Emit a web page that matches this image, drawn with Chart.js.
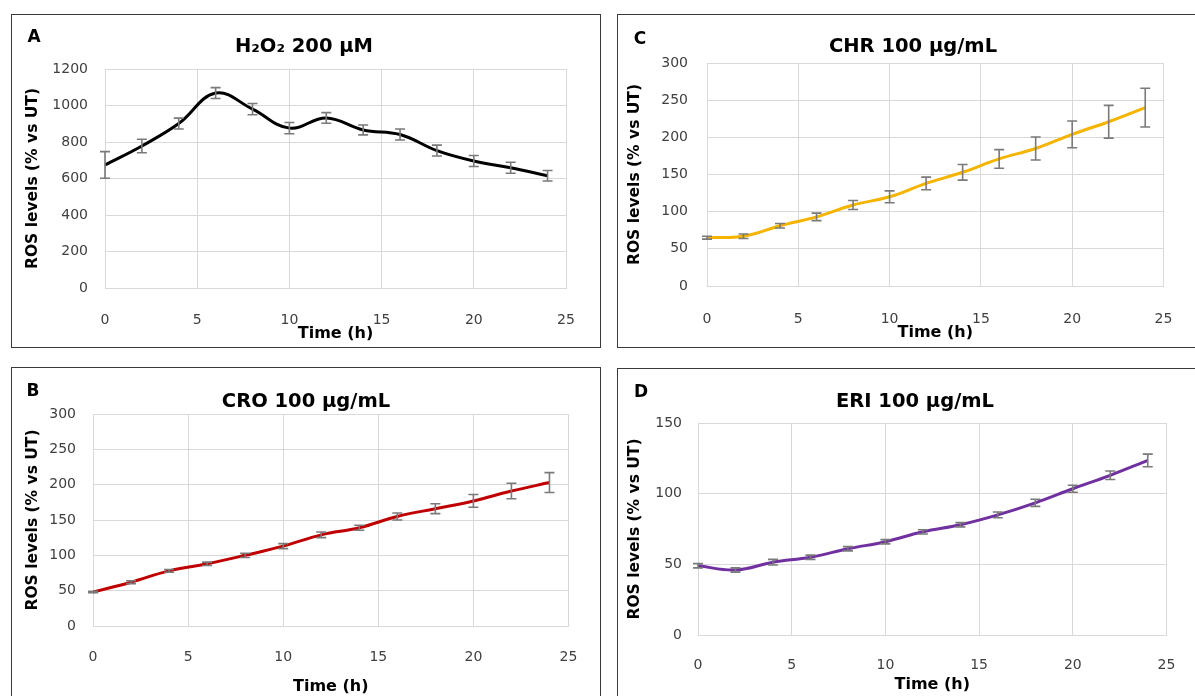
<!DOCTYPE html>
<html><head><meta charset="utf-8">
<script src="https://cdn.jsdelivr.net/npm/chart.js@4.4.1/dist/chart.umd.min.js"></script>
<style>
html,body{margin:0;padding:0;background:#fff;width:1195px;height:696px;overflow:hidden;}
body{position:relative;}
.box{position:absolute;border:1.5px solid #3a3a3a;box-sizing:border-box;}
canvas{position:absolute;}
</style></head><body>
<div class="box" style="left:11px;top:14px;width:590px;height:334px"></div>
<div class="box" style="left:617px;top:14px;width:600px;height:334px"></div>
<div class="box" style="left:11px;top:367px;width:590px;height:340px"></div>
<div class="box" style="left:617px;top:368px;width:600px;height:340px"></div>
<canvas id="cA" width="588" height="332" style="left:12px;top:15px"></canvas>
<canvas id="cC" width="580" height="332" style="left:617px;top:15px"></canvas>
<canvas id="cB" width="588" height="329" style="left:12px;top:367px"></canvas>
<canvas id="cD" width="580" height="328" style="left:617px;top:368px"></canvas>
<script>
// ---- data ----
const timeH = [0, 2, 4, 6, 8, 10, 12, 14, 16, 18, 20, 22, 24];
const xTickValues = [0, 5, 10, 15, 20, 25];

const h2o2Mean = [674, 778, 901, 1068, 980, 876, 932, 866, 841, 753, 696, 659, 615];
const h2o2Err  = [73, 37, 30, 30, 31, 31, 29, 27, 30, 30, 30, 30, 29];
const h2o2YTicks = [0, 200, 400, 600, 800, 1000, 1200];

const chrMean = [65, 67, 81, 93, 109, 120, 138, 153, 171, 185, 204, 221, 240];
const chrErr  = [2, 3, 3, 5, 6, 8, 8.5, 10.5, 12.5, 15.5, 18, 22, 26];
const chrYTicks = [0, 50, 100, 150, 200, 250, 300];

const croMean = [48, 62, 78, 88, 100, 113, 129, 139, 155, 166, 177, 191, 203];
const croErr  = [1, 2, 2, 2.4, 3, 3.5, 4, 3.5, 5, 7, 9, 11, 14];
const croYTicks = [0, 50, 100, 150, 200, 250, 300];

const eriMean = [49, 46, 51.5, 55, 61, 66, 73, 78, 85, 93.5, 103.5, 113, 123.5];
const eriErr  = [1.5, 1.5, 2, 1.5, 1.5, 1.5, 1.5, 1.5, 2, 2.5, 2.5, 3, 4.5];
const eriYTicks = [0, 50, 100, 150];

const titles = ['H\u2082O\u2082 200 \u03BCM', 'CHR 100 \u03BCg/mL', 'CRO 100 \u03BCg/mL', 'ERI 100 \u03BCg/mL'];
const letters = ['A', 'C', 'B', 'D'];
const yTitle = 'ROS levels (% vs UT)';
const xTitle = 'Time (h)';

// ---- plugins ----
const errorBars = {
  id: 'errorBars',
  afterDatasetsDraw(chart, args, opts) {
    const ctx = chart.ctx, xs = chart.scales.x, ys = chart.scales.y;
    const ds = chart.data.datasets[0];
    ctx.save();
    ctx.strokeStyle = '#7a7a7a';
    ctx.lineWidth = 1.6;
    ds.data.forEach((p, i) => {
      const e = opts.errors[i];
      const x = xs.getPixelForValue(p.x);
      const yt = ys.getPixelForValue(p.y + e);
      const yb = ys.getPixelForValue(p.y - e);
      ctx.beginPath();
      ctx.moveTo(x, yt); ctx.lineTo(x, yb);
      ctx.moveTo(x - 5, yt); ctx.lineTo(x + 5, yt);
      ctx.moveTo(x - 5, yb); ctx.lineTo(x + 5, yb);
      ctx.stroke();
    });
    ctx.restore();
  }
};
const panelText = {
  id: 'panelText',
  afterDraw(chart, args, opts) {
    const ctx = chart.ctx;
    ctx.save();
    ctx.fillStyle = '#000';
    ctx.textAlign = 'center';
    ctx.textBaseline = 'middle';
    ctx.font = 'bold 17px "DejaVu Sans", sans-serif';
    ctx.fillText(opts.letter, opts.letterPos[0], opts.letterPos[1]);
    ctx.font = 'bold 19.5px "DejaVu Sans", sans-serif';
    ctx.fillText(opts.title, opts.titlePos[0], opts.titlePos[1]);
    ctx.restore();
  }
};

Chart.defaults.font.family = '"DejaVu Sans", sans-serif';

function makePanel(id, title, letter, mean, err, yTicks, color, L) {
  const pts = timeH.map((t, i) => ({x: t, y: mean[i]}));
  new Chart(document.getElementById(id), {
    type: 'line',
    data: {datasets: [{data: pts, borderColor: color, borderWidth: 3, pointRadius: 0, tension: 0.4, fill: false}]},
    options: {
      responsive: false, animation: false, events: [],
      layout: {padding: {left: 0, top: L.padTop, right: L.padRight, bottom: 0}},
      plugins: {
        legend: {display: false}, tooltip: {enabled: false}, title: {display: false},
        errorBars: {errors: err},
        panelText: {letter: letter, letterPos: L.letter, title: title, titlePos: L.title}
      },
      scales: {
        x: {
          type: 'linear', min: xTickValues[0], max: xTickValues[xTickValues.length - 1],
          afterBuildTicks: s => { s.ticks = xTickValues.map(v => ({value: v})); },
          afterFit: s => { s.height = L.xAxisH; },
          grid: {color: '#d9d9d9', lineWidth: 1, drawTicks: false},
          border: {color: '#d9d9d9'},
          ticks: {padding: L.xTickPad, color: '#404040', font: {size: 14}, maxRotation: 0, autoSkip: false,
                  callback: v => String(v)},
          title: {display: true, text: xTitle, color: '#000', font: {size: 16, weight: 'bold'},
                  padding: {top: 0, bottom: L.xTitlePad}}
        },
        y: {
          type: 'linear', min: yTicks[0], max: yTicks[yTicks.length - 1],
          afterBuildTicks: s => { s.ticks = yTicks.map(v => ({value: v})); },
          afterFit: s => { s.width = L.yAxisW; },
          grid: {color: '#d9d9d9', lineWidth: 1, drawTicks: false},
          border: {color: '#d9d9d9'},
          ticks: {padding: L.yTickPad, color: '#404040', font: {size: 14}, autoSkip: false,
                  callback: v => String(v)},
          title: {display: true, text: yTitle, color: '#000', font: {size: 15.5, weight: 'bold'},
                  padding: {top: L.yTitlePad, bottom: 0}}
        }
      }
    },
    plugins: [errorBars, panelText]
  });
}

makePanel('cA', titles[0], letters[0], h2o2Mean, h2o2Err, h2o2YTicks, '#000000',
  {padTop: 54, padRight: 34, xAxisH: 59, yAxisW: 93, xTickPad: 23.6, xTitlePad: 4, yTitlePad: 11.5, yTickPad: 17, letter: [22, 23], title: [292, 32]});
makePanel('cC', titles[1], letters[1], chrMean, chrErr, chrYTicks, '#F5B400',
  {padTop: 48, padRight: 23, xAxisH: 61, yAxisW: 90, xTickPad: 24.6, xTitlePad: 5, yTitlePad: 8.5, yTickPad: 19, letter: [23, 25], title: [296, 32]});
makePanel('cB', titles[2], letters[2], croMean, croErr, croYTicks, '#C00000',
  {padTop: 47, padRight: 27, xAxisH: 70, yAxisW: 81, xTickPad: 22.6, xTitlePad: 0, yTitlePad: 11.5, yTickPad: 17, letter: [21, 25], title: [294, 35]});
makePanel('cD', titles[3], letters[3], eriMean, eriErr, eriYTicks, '#7030A0',
  {padTop: 55, padRight: 21, xAxisH: 61, yAxisW: 81, xTickPad: 21.6, xTitlePad: 2, yTitlePad: 8.5, yTickPad: 16, letter: [24, 25], title: [298, 34]});
</script>
</body></html>
